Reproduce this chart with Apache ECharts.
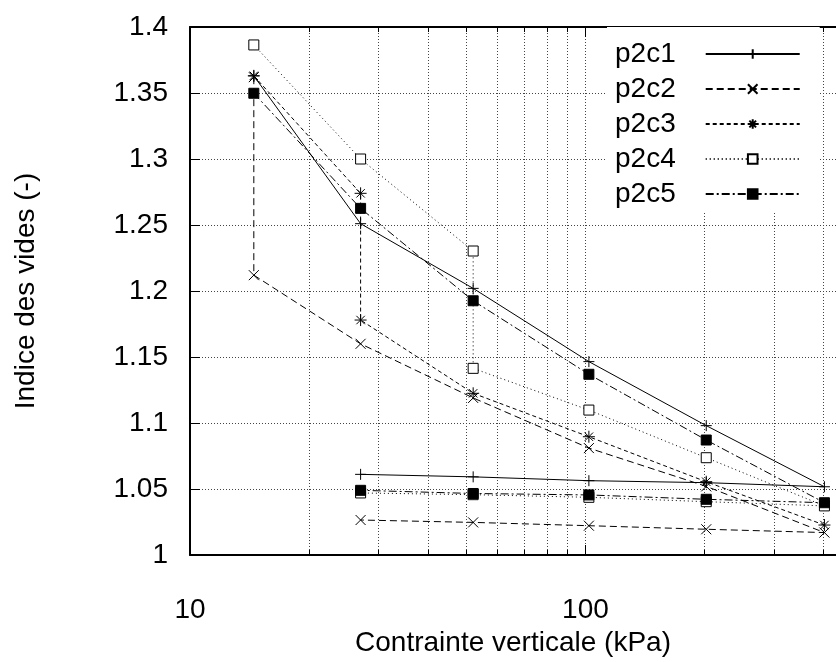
<!DOCTYPE html>
<html>
<head>
<meta charset="utf-8">
<script src="https://cdn.jsdelivr.net/npm/echarts@6/dist/echarts.min.js"></script>
<style>html,body{margin:0;padding:0;background:#fff}#c{width:836px;height:662px}</style>
</head>
<body>
<div id="c"></div>
<script>
// ---- data ----
const seriesNames = ['p2c1', 'p2c2', 'p2c3', 'p2c4', 'p2c5'];
const p2c1X = [14.5, 27, 52, 102, 202, 402, 202, 102, 52, 27];
const p2c1Y = [1.363, 1.251, 1.202, 1.1465, 1.098, 1.0517, 1.0548, 1.0563, 1.0592, 1.0611];
const p2c2X = [14.5, 14.5, 27, 52, 102, 202, 402, 202, 102, 52, 27];
const p2c2Y = [1.362, 1.212, 1.160, 1.119, 1.081, 1.052, 1.017, 1.0195, 1.0222, 1.0247, 1.0265];
const p2c3X = [14.5, 27, 27, 52, 102, 202, 402];
const p2c3Y = [1.363, 1.274, 1.178, 1.1225, 1.0896, 1.0555, 1.0227];
const p2c4X = [14.5, 27, 52, 52, 102, 202, 402, 202, 102, 52, 27];
const p2c4Y = [1.3864, 1.300, 1.2303, 1.1414, 1.1098, 1.0737, 1.0372, 1.0404, 1.0437, 1.0457, 1.047];
const p2c5X = [14.5, 27, 52, 102, 202, 402, 202, 102, 52, 27];
const p2c5Y = [1.3498, 1.2626, 1.1926, 1.1369, 1.0871, 1.0396, 1.0422, 1.0455, 1.0466, 1.0490];
const xMajorTicks = [10, 100];
const xMinorTicks = [20, 30, 40, 50, 60, 70, 80, 90, 200, 300, 400];
const xMin = 10, xMax = 430;
const yMin = 1, yMax = 1.4, yStep = 0.05;
const xTitle = 'Contrainte verticale (kPa)';
const yTitle = 'Indice des vides (-)';

const FONT = 'Liberation Sans';
const FS = 28;
const pair = (xs, ys) => xs.map((x, i) => [x, ys[i]]);

const symPlus = 'path://M0,5L10,5M5,0L5,10';
const symCross = 'path://M0,0L10,10M0,10L10,0';
const symStar = 'path://M0,5L10,5M5,0L5,10M1.5,1.5L8.5,8.5M1.5,8.5L8.5,1.5';

const styles = [
  { symbol: symPlus, size: 11, fill: 'transparent', dash: 'solid' },
  { symbol: symCross, size: 10, fill: 'transparent', dash: [7, 4] },
  { symbol: symStar, size: 12, fill: 'transparent', dash: [4, 3] },
  { symbol: 'rect', size: 10, fill: '#fff', dash: [1, 3] },
  { symbol: 'rect', size: 10, fill: '#000', dash: [8, 3, 2, 3] }
];
const datasets = [pair(p2c1X, p2c1Y), pair(p2c2X, p2c2Y), pair(p2c3X, p2c3Y), pair(p2c4X, p2c4Y), pair(p2c5X, p2c5Y)];

const gridLine = { show: true, lineStyle: { color: '#444', width: 1, type: [1, 2] } };

function xAx(opts) {
  return Object.assign({
    type: 'log', logBase: 10, min: xMin, max: xMax, gridIndex: 0,
    axisLine: { show: false }, axisLabel: { show: false },
    axisTick: { show: false }, splitLine: { show: false }
  }, opts);
}

const option = {
  animation: false,
  backgroundColor: '#fff',
  grid: { left: 190, top: 27, right: 0, bottom: 107, containLabel: false },
  xAxis: [
    xAx({
      position: 'bottom',
      name: xTitle, nameLocation: 'middle', nameGap: 72,
      nameTextStyle: { fontFamily: FONT, fontSize: FS, color: '#000' },
      axisLine: { show: true, lineStyle: { color: '#000', width: 2 } },
      axisLabel: { show: true, customValues: xMajorTicks, fontFamily: FONT, fontSize: FS, color: '#000', margin: 41 },
      axisTick: { show: true, inside: true, length: 10, customValues: xMajorTicks, lineStyle: { color: '#000' } },
      splitLine: gridLine
    }),
    xAx({
      position: 'bottom',
      axisTick: { show: true, inside: true, length: 5, customValues: xMinorTicks, lineStyle: { color: '#000' } },
      splitLine: gridLine
    }),
    xAx({
      position: 'top',
      axisLine: { show: true, lineStyle: { color: '#000', width: 2 } },
      axisTick: { show: true, inside: true, length: 10, customValues: xMajorTicks, lineStyle: { color: '#000' } }
    }),
    xAx({
      position: 'top',
      axisTick: { show: true, inside: true, length: 5, customValues: xMinorTicks, lineStyle: { color: '#000' } }
    })
  ],
  yAxis: {
    type: 'value', min: yMin, max: yMax, interval: yStep,
    name: yTitle, nameLocation: 'middle', nameGap: 150, nameRotate: 90,
    nameTextStyle: { fontFamily: FONT, fontSize: FS, color: '#000' },
    axisLine: { show: true, lineStyle: { color: '#000', width: 2 } },
    axisTick: { show: true, inside: true, length: 10, lineStyle: { color: '#000' } },
    axisLabel: { fontFamily: FONT, fontSize: FS, color: '#000', margin: 22 },
    splitLine: gridLine
  },
  legend: {
    orient: 'vertical', left: 607, top: 27, align: 'right',
    padding: [13, 19, 5, 8], itemGap: 7, itemWidth: 94, itemHeight: 12,
    backgroundColor: '#fff', z: 10,
    textStyle: { fontFamily: FONT, fontSize: FS, color: '#000', padding: [0, 25, 0, 0] },
    data: seriesNames
  },
  series: seriesNames.map((name, i) => ({
    name: name, type: 'line', xAxisIndex: 0, yAxisIndex: 0,
    data: datasets[i],
    symbol: styles[i].symbol, symbolSize: styles[i].size, showAllSymbol: true,
    color: '#000',
    lineStyle: { color: '#000', width: 1, type: styles[i].dash },
    itemStyle: { color: styles[i].fill, borderColor: '#000', borderWidth: 1 },
    emphasis: { disabled: true },
    z: 2 + i
  }))
};

const chart = echarts.init(document.getElementById('c'), null, { renderer: 'canvas' });
chart.setOption(option);
</script>
</body>
</html>
